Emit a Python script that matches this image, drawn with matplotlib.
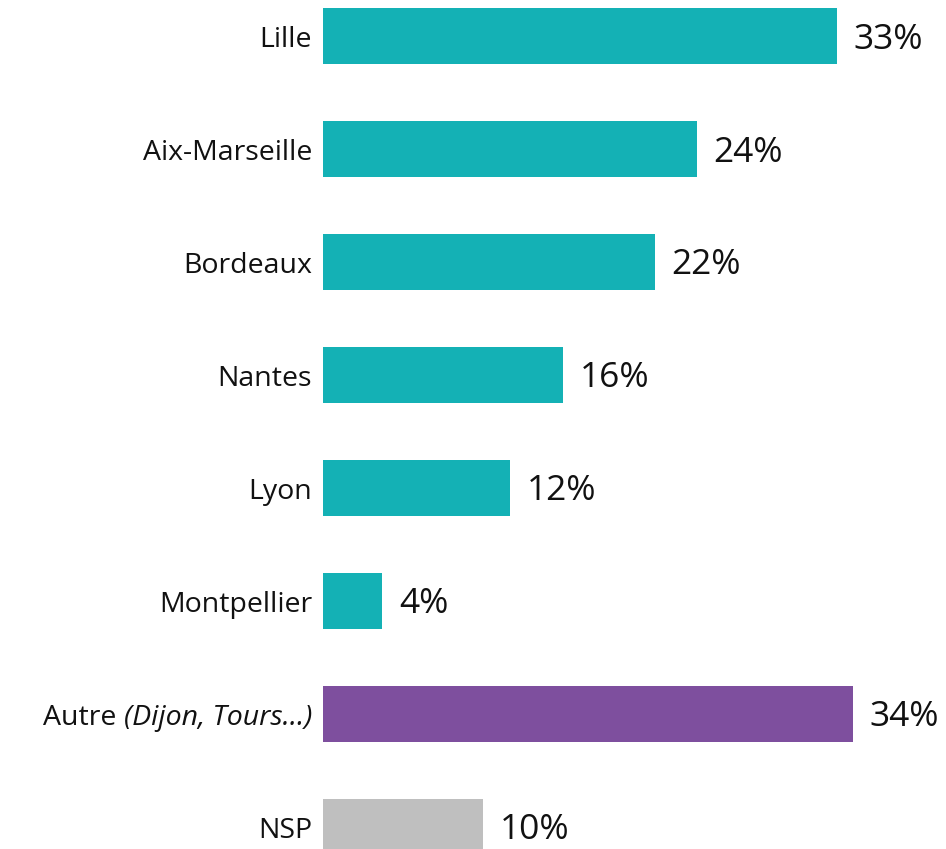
import matplotlib
matplotlib.use("Agg")
import matplotlib.pyplot as plt
from matplotlib.transforms import offset_copy

plt.rcParams['font.family'] = ['Open Sans', 'DejaVu Sans']

# --- Data --- #
villes = ["Lille", "Aix-Marseille", "Bordeaux", "Nantes", "Lyon", "Montpellier",
          "Autre", "NSP"]
valeurs = [33.0, 24.0, 21.3, 15.4, 12.0, 3.8, 34.0, 10.3]   # bar lengths
etiquettes = ["33%", "24%", "22%", "16%", "12%", "4%", "34%", "10%"]
couleurs = ["#14B1B5"] * 6 + ["#7E4F9E", "#BFBFBF"]
autre_detail = "(Dijon, Tours\u2026)"

fig = plt.figure(figsize=(9.46, 8.49), dpi=100)
ax = fig.add_axes([0.3414, 0.0, 0.6586, 1.0])

pos = list(range(len(villes)))
ax.barh(pos, valeurs, height=0.5, color=couleurs)
ax.set_xlim(0, 40)
ax.set_ylim(7.195, -0.319)

# value labels
for p, v, lab in zip(pos, valeurs, etiquettes):
    ax.annotate(lab, (v, p), xytext=(12, -2.5), textcoords="offset points",
                ha="left", va="center", fontsize=25.5, color="#111111")

# category labels (Autre has an italic part)
fs = 20.5
for p, name in zip(pos, villes):
    tr = offset_copy(ax.transData, fig=fig, x=-11, y=-4, units="dots")
    if name == "Autre":
        t = ax.text(0, p, autre_detail, transform=tr, ha="right", va="center",
                    fontsize=fs, style="italic", color="#111111")
        fig.canvas.draw()
        w = t.get_window_extent().width
        tr2 = offset_copy(ax.transData, fig=fig, x=-11 - w - 7, y=-4, units="dots")
        ax.text(0, p, name, transform=tr2, ha="right", va="center",
                fontsize=fs, color="#111111")
    else:
        ax.text(0, p, name, transform=tr, ha="right", va="center",
                fontsize=fs, color="#111111")

ax.set_yticks([])
ax.set_xticks([])
for s in ax.spines.values():
    s.set_visible(False)

fig.savefig("out.png", dpi=100)
